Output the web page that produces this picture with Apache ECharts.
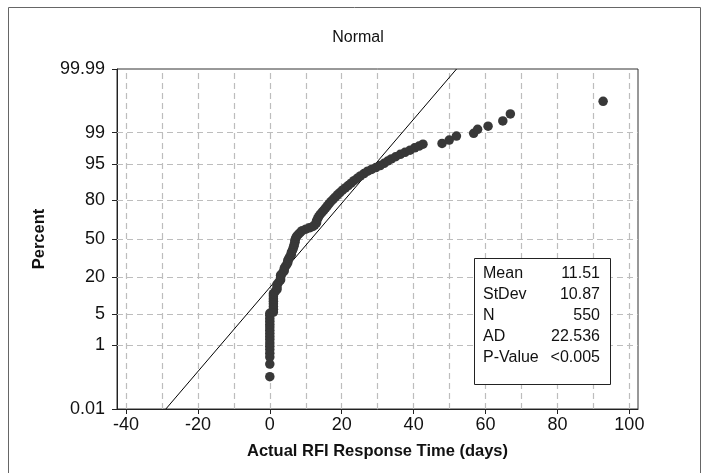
<!DOCTYPE html>
<html><head><meta charset="utf-8">
<script src="https://cdn.jsdelivr.net/npm/echarts@6/dist/echarts.min.js"></script>
<style>html,body{margin:0;padding:0;background:#fff}#c{width:707px;height:473px}</style>
</head><body><div id="c"></div><script>
const days = [
 0,0,0,0,0,0,0,0,0,0,0,0,0,0,0,0,0,
 1,1,1,1,1,1,1,1,
 1.5,2,2,2,2.5,3,3,3,3.5,4,4,4.3,4.7,5,5,5.3,5.6,6,6,6.3,6.5,6.7,6.8,7,7,7.2,7.5,8,8.5,9,10,11,12,12.5,13,13,13.3,13.6,14,14.5,15,15.5,16,16.5,17,17.6,18.2,18.8,19.5,20.2,21,21.8,22.6,23.4,24.3,25.2,26.2,27.2,28.3,29.5,30.7,31.8,32.8,33.8,35,36.3,37.6,39,40.3,41.5,42.6,
 47.9,49.9,51.9,56.7,57.8,60.7,64.8,66.9,92.7
];
const percents = [
 0.13,0.31,0.49,0.62,0.78,0.95,1.15,1.4,1.65,1.95,2.3,2.7,3.1,3.6,4.1,4.7,5.2,
 5.5,6.2,7.0,7.8,8.7,9.6,10.6,11.6,
 12.5,13.5,14.7,16,17.3,18.5,20,21.4,22.8,24.2,25.8,27.3,28.8,30.3,32,33.6,35.2,36.8,38.5,40.2,42,43.7,45.4,47.2,49,50.8,52.5,54.2,55.8,57.2,58.5,59.7,60.8,62.2,63.8,65.5,67.2,68.8,70.4,72,73.5,75,76.5,78,79.4,80.7,82,83.3,84.5,85.7,86.8,87.9,88.9,89.9,90.8,91.6,92.4,93.1,93.6,94.1,94.6,95.1,95.6,96.0,96.4,96.8,97.1,97.4,97.7,97.9,98.1,
 98.17,98.48,98.78,98.96,99.18,99.32,99.51,99.69,99.87
];
const xTicks = [-40,-20,0,20,40,60,80,100];
const xGridLines = [-40,-30,-20,-10,0,10,20,30,40,50,60,70,80,90,100];
const yTickPct = [0.01,1,5,20,50,80,95,99,99.99];
const yTickLabels = ['0.01','1','5','20','50','80','95','99','99.99'];
const yGridPct = [1,5,20,50,80,95,99];
const statNames = ['Mean','StDev','N','AD','P-Value'];
const statValues = ['11.51','10.87','550','22.536','<0.005'];
const fitMean = 11.51, fitStDev = 10.87;

// inverse standard normal (probability-plot scale)
function probit(p){
 const a=[-3.969683028665376e+01,2.209460984245205e+02,-2.759285104469687e+02,1.383577518672690e+02,-3.066479806614716e+01,2.506628277459239e+00];
 const b=[-5.447609879822406e+01,1.615858368580409e+02,-1.556989798598866e+02,6.680131188771972e+01,-1.328068155288572e+01];
 const c=[-7.784894002430293e-03,-3.223964580411365e-01,-2.400758277161838e+00,-2.549732539343734e+00,4.374664141464968e+00,2.938163982698783e+00];
 const d=[7.784695709041462e-03,3.224671290700398e-01,2.445134137142996e+00,3.754408661907416e+00];
 const pl=0.02425, ph=1-pl; let q,r;
 if(p<pl){q=Math.sqrt(-2*Math.log(p));return (((((c[0]*q+c[1])*q+c[2])*q+c[3])*q+c[4])*q+c[5])/((((d[0]*q+d[1])*q+d[2])*q+d[3])*q+1);}
 if(p<=ph){q=p-0.5;r=q*q;return (((((a[0]*r+a[1])*r+a[2])*r+a[3])*r+a[4])*r+a[5])*q/(((((b[0]*r+b[1])*r+b[2])*r+b[3])*r+b[4])*r+1);}
 q=Math.sqrt(-2*Math.log(1-p));return -(((((c[0]*q+c[1])*q+c[2])*q+c[3])*q+c[4])*q+c[5])/((((d[0]*q+d[1])*q+d[2])*q+d[3])*q+1);
}
const yTickZ = yTickPct.map(p=>probit(p/100));
const yMin = yTickZ[0], yMax = yTickZ[yTickZ.length-1];
const pts = days.map((d,i)=>[d, probit(percents[i]/100)]);
const fitLine = [[fitMean+fitStDev*yMin, yMin],[fitMean+fitStDev*yMax, yMax]];

const FONT = 'Liberation Sans, Arial, sans-serif';
const chart = echarts.init(document.getElementById('c'), null, {renderer:'canvas'});
const statGraphics = [];
statGraphics.push({type:'rect', shape:{x:474.5,y:258.5,width:136,height:126}, style:{fill:'#fff',stroke:'#222',lineWidth:1}, z:100});
statNames.forEach((n,i)=>{
  statGraphics.push({type:'text', x:483, y:273.5+21.1*i, style:{text:n, fontSize:16, fontFamily:FONT, fill:'#111', textAlign:'left', textVerticalAlign:'middle'}, z:101});
  statGraphics.push({type:'text', x:600, y:273.5+21.1*i, style:{text:statValues[i], fontSize:16, fontFamily:FONT, fill:'#111', textAlign:'right', textVerticalAlign:'middle'}, z:101});
});
chart.setOption({
  animation:false,
  backgroundColor:'#fff',
  grid:{left:117, right:69, top:69, bottom:64, show:true, borderColor:'#333', borderWidth:1, containLabel:false},
  xAxis:{type:'value', min:-42.5, max:102.4,
    axisLine:{show:true, onZero:false, lineStyle:{color:'#222',width:1}},
    axisTick:{show:true, length:5, customValues:xTicks, lineStyle:{color:'#222'}},
    axisLabel:{customValues:xTicks, fontSize:18, fontFamily:FONT, color:'#111', margin:7},
    splitLine:{show:false},
    name:'Actual RFI Response Time (days)', nameLocation:'middle', nameGap:34,
    nameTextStyle:{fontWeight:'bold', fontSize:16.5, fontFamily:FONT, color:'#111'}},
  yAxis:{type:'value', min:yMin, max:yMax,
    axisLine:{show:true, onZero:false, lineStyle:{color:'#222',width:1}},
    axisTick:{show:true, length:5, customValues:yTickZ, lineStyle:{color:'#222'}},
    axisLabel:{customValues:yTickZ, fontSize:18, fontFamily:FONT, color:'#111', margin:12,
      formatter:(v)=>{let bi=0,bd=1e9;yTickZ.forEach((z,i)=>{const dd=Math.abs(z-v);if(dd<bd){bd=dd;bi=i;}});return yTickLabels[bi];}},
    splitLine:{show:false},
    name:'Percent', nameLocation:'middle', nameGap:69,
    nameTextStyle:{fontWeight:'bold', fontSize:16.5, fontFamily:FONT, color:'#111'}},
  graphic:[
    {type:'rect', shape:{x:8.5,y:7.5,width:692,height:480}, style:{fill:'none',stroke:'#666',lineWidth:1}, z:0, silent:true},
    {type:'text', x:358, y:37.5, style:{text:'Normal', fontSize:16, fontFamily:FONT, fill:'#111', textAlign:'center', textVerticalAlign:'middle'}, z:10},
    ...statGraphics
  ],
  series:[
    {type:'line', data:fitLine, z:3, symbol:'none', silent:true, lineStyle:{color:'#000', width:1},
     markLine:{silent:true, symbol:'none', z:1, label:{show:false}, animation:false,
       lineStyle:{color:'#bdbdbd', type:[6,4], width:1.2},
       emphasis:{disabled:true},
       data:[...xGridLines.map(v=>({xAxis:v})), ...yGridPct.map(p=>({yAxis:probit(p/100)}))]}},
    {type:'scatter', data:pts, z:4, symbol:'circle', symbolSize:9.5, silent:true, itemStyle:{color:'#383838', opacity:1}}
  ]
});
</script></body></html>
